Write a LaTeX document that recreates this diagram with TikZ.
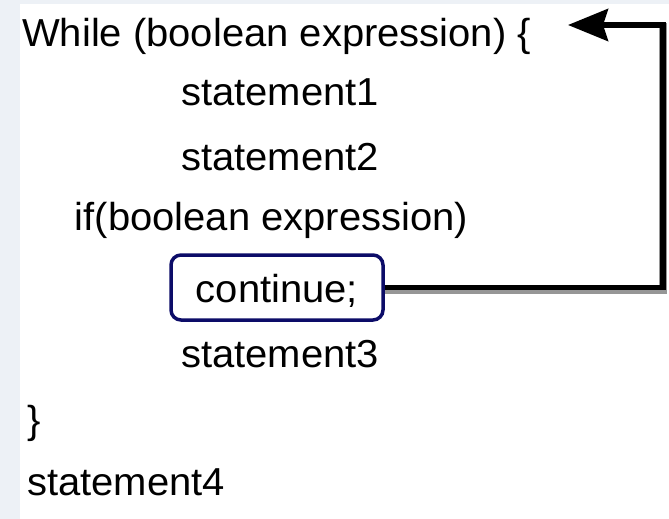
\documentclass[tikz,border=0pt]{standalone}
\usepackage{fontspec}
\setmainfont[FakeStretch=1.025]{Liberation Sans}
\usetikzlibrary{arrows.meta}
\definecolor{pagebg}{RGB}{237,241,246}
\definecolor{boxnavy}{RGB}{12,12,104}
\definecolor{shadowgray}{RGB}{150,150,150}
\tikzset{
  code/.style={font=\fontsize{39}{39}\selectfont, inner sep=0pt, anchor=base west},
  contbox/.style={draw=boxnavy, line width=3.5pt, rounded corners=10pt, fill=white,
    minimum width=212pt, minimum height=65pt, inner sep=0pt,
    text height=36pt, text depth=7pt,
    font=\fontsize{39}{39}\selectfont},
  loopline/.style={draw=black, line width=5.5pt},
  loopshadow/.style={draw=shadowgray, line width=8pt},
  looptip/.style={-{Stealth[length=40pt,width=32pt,inset=5pt]}}
}
\begin{document}
\begin{tikzpicture}[x=1pt, y=-1pt]
  % page and margins
  \useasboundingbox (0,0) rectangle (669,519);
  \fill[pagebg] (0,0) rectangle (669,519);
  \fill[white] (20,4) rectangle (669,519);

  % code lines
  \node[code] (while) at (22,47) {While (boolean expression) \{};
  \node[code] (s1) at (181,105) {statement1};
  \node[code] (s2) at (181,170) {statement2};
  \node[code] (cond) at (74.5,230) {if(boolean expression)};
  \node[contbox] (cont) at (277,287.5) {continue;};
  \node[code] (s3) at (181,367) {statement3};
  \node[code] (close) at (27,433) {\}};
  \node[code] (s4) at (27,495) {statement4};

  % jump back to the loop head
  \coordinate (turn) at (663,25);
  \coordinate (head) at (568,25);
  \draw[loopshadow, transform canvas={yshift=-2.5pt}] (cont.east) -| ([yshift=4pt]turn);
  \draw[loopline, looptip] (cont.east) -| (turn) -- (head);
\end{tikzpicture}
\end{document}
